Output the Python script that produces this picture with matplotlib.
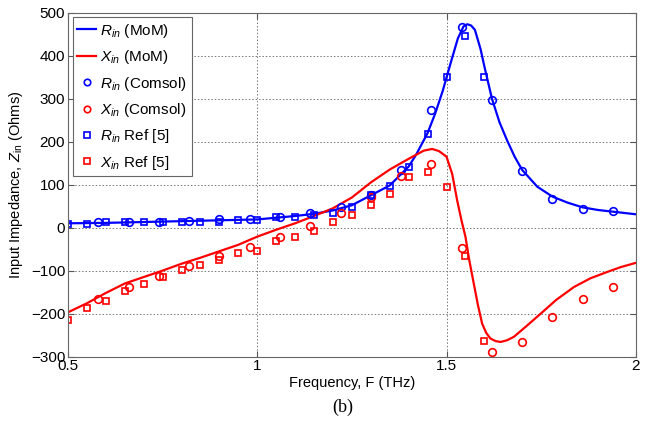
import numpy as np
import matplotlib
matplotlib.use("Agg")
import matplotlib.pyplot as plt

plt.rcParams['font.family'] = ['Liberation Sans', 'DejaVu Sans']
plt.rcParams['mathtext.fontset'] = 'custom'
plt.rcParams['mathtext.rm'] = 'Liberation Sans'
plt.rcParams['mathtext.it'] = 'Liberation Sans:italic'

# MoM curves
f_mom_r = [0.5, 0.6, 0.7, 0.8, 0.9, 1.0, 1.1, 1.15, 1.2, 1.25, 1.3, 1.35, 1.4, 1.42,
           1.45, 1.47, 1.49, 1.51, 1.53, 1.545, 1.555, 1.565, 1.575, 1.59, 1.6, 1.62,
           1.64, 1.66, 1.68, 1.7, 1.74, 1.78, 1.82, 1.86, 1.9, 1.94, 2.0]
r_mom = [10, 11, 13, 15, 17, 19, 27, 32, 40, 52, 75, 98, 142, 170,
         220, 265, 318, 380, 440, 468, 473, 470, 460, 415, 375, 300,
         245, 203, 165, 134, 95, 72, 58, 47, 41, 37, 31]

f_mom_x = [0.5, 0.55, 0.6, 0.65, 0.7, 0.75, 0.8, 0.85, 0.9, 0.95, 1.0, 1.05, 1.1,
           1.15, 1.2, 1.25, 1.3, 1.35, 1.4, 1.44, 1.462, 1.48, 1.5, 1.515, 1.528,
           1.54, 1.55, 1.56, 1.572, 1.583, 1.594, 1.605, 1.616, 1.63, 1.643, 1.66,
           1.678, 1.71, 1.749, 1.79, 1.837, 1.88, 1.925, 1.96, 2.0]
x_mom = [-197, -176, -152, -130, -115, -100, -84, -70, -55, -40, -21, -5, 10,
         27, 45, 70, 105, 135, 160, 179, 183, 178, 165, 125, 64,
         15, -21, -75, -130, -180, -223, -245, -258, -264, -266, -262,
         -254, -230, -200, -168, -138, -118, -103, -92, -82]

# Comsol (circles)
f_comsol = [0.58, 0.66, 0.74, 0.82, 0.90, 0.98, 1.06, 1.14, 1.22, 1.30, 1.38, 1.46,
            1.54, 1.62, 1.70, 1.78, 1.86, 1.94]
r_comsol = [12, 13, 14, 15, 19, 21, 25, 35, 48, 75, 133, 273,
            466, 296, 131, 67, 44, 39]
x_comsol = [-167, -138, -112, -90, -66, -45, -21, 4, 34, 72, 121, 149,
            -47, -290, -266, -209, -166, -137]

# Ref [5] (squares)
f_ref = [0.50, 0.55, 0.60, 0.65, 0.70, 0.75, 0.80, 0.85, 0.90, 0.95, 1.00, 1.05,
         1.10, 1.15, 1.20, 1.25, 1.30, 1.35, 1.40, 1.45, 1.50, 1.55, 1.60]
r_ref = [8, 8, 12, 13, 13, 13, 13, 12, 13, 17, 17, 24,
         24, 29, 35, 47, 75, 96, 141, 217, 350, 445, 350]
x_ref = [-215, -187, -170, -148, -132, -115, -99, -88, -76, -59, -54, -32,
         -21, -9, 13, 29, 52, 79, 117, 129, 95, -66, -264]

blue = '#0000ff'
red = '#ff0000'

fig = plt.figure(figsize=(6.5, 4.21), dpi=100)
ax = fig.add_axes([0.1046, 0.153, 0.8735, 0.817])

ax.plot(f_mom_r, r_mom, color=blue, lw=1.6, label=r'$R_{in}$ (MoM)')
ax.plot(f_mom_x, x_mom, color=red, lw=1.6, label=r'$X_{in}$ (MoM)')
ax.plot(f_comsol, r_comsol, 'o', mfc='none', mec=blue, ms=5.5, mew=1.2,
        label=r'$R_{in}$ (Comsol)')
ax.plot(f_comsol, x_comsol, 'o', mfc='none', mec=red, ms=5.5, mew=1.2,
        label=r'$X_{in}$ (Comsol)')
ax.plot(f_ref, r_ref, 's', mfc='none', mec=blue, ms=4.8, mew=1.2,
        label=r'$R_{in}$ Ref [5]')
ax.plot(f_ref, x_ref, 's', mfc='none', mec=red, ms=4.8, mew=1.2,
        label=r'$X_{in}$ Ref [5]')

ax.set_xlim(0.5, 2)
ax.set_ylim(-300, 500)
ax.set_xticks([0.5, 1, 1.5, 2])
ax.set_xticklabels(['0.5', '1', '1.5', '2'])
ax.set_yticks(range(-300, 501, 100))
ax.tick_params(direction='in', top=True, right=True, labelsize=11,
               length=4, color='#555555', pad=2)
ax.grid(True, linestyle=(0, (1.5, 2)), color='#777777', lw=0.7)
for s in ax.spines.values():
    s.set_color('#666666')

ax.set_xlabel('Frequency, F (THz)', fontsize=10.5, labelpad=2)
ax.set_ylabel(r'Input Impedance, $Z_{\mathrm{in}}$ (Ohms)', fontsize=10.5, labelpad=4)

leg = ax.legend(loc='upper left', fontsize=11, handlelength=1.25, handletextpad=0.25,
                borderpad=0.3, labelspacing=0.55, fancybox=False, framealpha=1,
                borderaxespad=0.3, markerscale=0.85)
leg.get_frame().set_edgecolor('#666666')
leg.get_frame().set_linewidth(0.8)

fig.text(0.528, 0.033, '(b)', fontsize=13, family='Liberation Serif',
         ha='center', va='center')

fig.savefig('out.png', dpi=100)
